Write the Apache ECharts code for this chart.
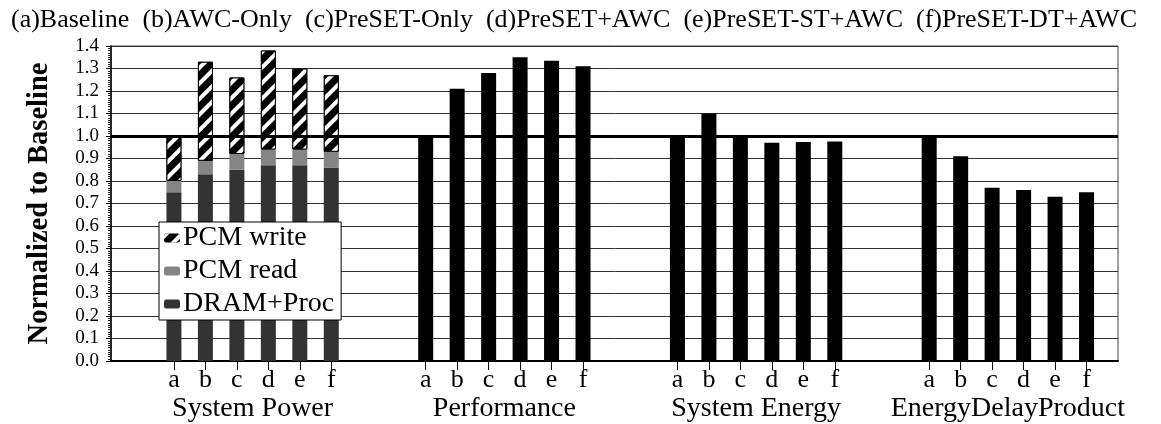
<!DOCTYPE html>
<html>
<head>
<meta charset="utf-8">
<script src="https://cdn.jsdelivr.net/npm/echarts@6/dist/echarts.min.js"></script>
<style>
  html, body { margin: 0; padding: 0; background: #fff; }
  #chart { width: 1161px; height: 424px; }
</style>
</head>
<body>
<div id="chart"></div>
<script>
// Configuration labels shown for every metric group
const letters = ['a', 'b', 'c', 'd', 'e', 'f'];
const configNames = ['(a)Baseline', '(b)AWC-Only', '(c)PreSET-Only', '(d)PreSET+AWC', '(e)PreSET-ST+AWC', '(f)PreSET-DT+AWC'];
const groupNames = ['System Power', 'Performance', 'System Energy', 'EnergyDelayProduct'];

// System power breakdown (stacked), normalized to baseline
const powerDram  = [0.75, 0.83, 0.85, 0.87, 0.87, 0.86];
const powerRead  = [0.05, 0.06, 0.07, 0.07, 0.07, 0.07];
const powerWrite = [0.20, 0.44, 0.34, 0.44, 0.36, 0.34];

// Single-value metrics, normalized to baseline
const performance  = [1.00, 1.21, 1.28, 1.35, 1.335, 1.31];
const systemEnergy = [1.00, 1.10, 1.00, 0.97, 0.973, 0.976];
const energyDelay  = [1.00, 0.91, 0.77, 0.76, 0.73, 0.75];

// Category slots: each group takes 6 bars followed by 2 empty slots
const SLOT_COUNT = 33;
const groupStart = [2, 10, 18, 26];

const cats = new Array(SLOT_COUNT).fill('');
groupStart.forEach(s => letters.forEach((l, i) => { cats[s + i] = l; }));

// Half-step axis used to centre the group names under each group
const groupCats = new Array(SLOT_COUNT * 2 - 1).fill('');
groupStart.forEach((s, g) => { groupCats[(s + 2.5) * 2] = groupNames[g]; });

function slots(values, start) {
  const arr = new Array(SLOT_COUNT).fill('-');
  values.forEach((v, i) => { arr[start + i] = v; });
  return arr;
}

const dramData = slots(powerDram, groupStart[0]);
const readData = slots(powerRead, groupStart[0]);
const writeData = slots(powerWrite, groupStart[0]);
const metricData = new Array(SLOT_COUNT).fill('-');
[performance, systemEnergy, energyDelay].forEach((vals, k) => {
  vals.forEach((v, i) => { metricData[groupStart[k + 1] + i] = v; });
});

const FONT = 'Liberation Serif';
const chart = echarts.init(document.getElementById('chart'));

chart.setOption({
  animation: false,
  backgroundColor: '#fff',
  textStyle: { fontFamily: FONT, color: '#000' },
  title: {
    text: configNames.join('  '),
    left: 6,
    top: 2,
    textStyle: { fontFamily: FONT, fontSize: 26, fontWeight: 'normal', color: '#000' }
  },
  legend: {
    data: ['PCM write', 'PCM read', 'DRAM+Proc'],
    orient: 'vertical',
    left: 159,
    top: 222,
    padding: [2, 7, 2, 5],
    itemGap: 5,
    itemWidth: 16,
    itemHeight: 9,
    itemStyle: { borderWidth: 0 },
    backgroundColor: '#fff',
    borderColor: '#000',
    borderWidth: 1,
    textStyle: { fontFamily: FONT, fontSize: 28, color: '#000', lineHeight: 28, padding: [0, 0, 0, -2] },
    selectedMode: false
  },
  grid: {
    left: 111, right: 43, top: 46, bottom: 63,
    show: true, borderColor: '#444', borderWidth: 1
  },
  xAxis: [
    {
      type: 'category',
      data: cats,
      boundaryGap: false,
      axisLine: { lineStyle: { color: '#000', width: 2 } },
      axisTick: {
        length: 9,
        lineStyle: { color: '#000', width: 1 },
        interval: (i, v) => v !== ''
      },
      axisLabel: {
        interval: 0,
        margin: 6,
        fontFamily: FONT,
        fontSize: 26,
        color: '#000'
      },
      splitLine: { show: false }
    },
    {
      type: 'category',
      data: groupCats,
      boundaryGap: false,
      position: 'bottom',
      axisLine: { show: false },
      axisTick: { show: false },
      axisLabel: {
        interval: 0,
        margin: 34,
        fontFamily: FONT,
        fontSize: 28,
        color: '#000'
      },
      splitLine: { show: false }
    }
  ],
  yAxis: {
    type: 'value',
    min: 0,
    max: 1.4,
    interval: 0.1,
    name: 'Normalized to Baseline',
    nameLocation: 'middle',
    nameGap: 57,
    nameTextStyle: { fontFamily: FONT, fontSize: 28.5, fontWeight: 'bold', color: '#000' },
    axisLine: { show: true, lineStyle: { color: '#000', width: 1.5 } },
    axisTick: { show: true, length: 5, lineStyle: { color: '#000' } },
    minorTick: { show: true, splitNumber: 10, length: 3, lineStyle: { color: '#222' } },
    axisLabel: {
      margin: 12,
      fontFamily: FONT,
      fontSize: 19,
      color: '#000',
      formatter: v => v.toFixed(1)
    },
    splitLine: { lineStyle: { color: '#333', width: 1 } }
  },
  series: [
    {
      name: 'DRAM+Proc',
      type: 'bar',
      stack: 'v',
      barWidth: 15,
      data: dramData,
      itemStyle: { color: '#333333' }
    },
    {
      name: 'PCM read',
      type: 'bar',
      stack: 'v',
      barWidth: 15,
      data: readData,
      itemStyle: { color: '#858585' }
    },
    {
      name: 'PCM write',
      type: 'bar',
      stack: 'v',
      barWidth: 15,
      data: writeData,
      itemStyle: {
        color: '#000',
        borderColor: '#000',
        borderWidth: 1,
        decal: {
          symbol: 'rect',
          symbolSize: 1,
          color: '#fff',
          dashArrayX: [1, 0],
          dashArrayY: [4, 7],
          rotation: -Math.PI / 4
        }
      }
    },
    {
      name: 'Metric',
      type: 'bar',
      stack: 'v',
      barWidth: 15,
      data: metricData,
      itemStyle: { color: '#000' },
      markLine: {
        silent: true,
        symbol: 'none',
        label: { show: false },
        lineStyle: { color: '#000', width: 3, type: 'solid' },
        data: [{ yAxis: 1.0 }]
      }
    }
  ]
});
</script>
</body>
</html>
